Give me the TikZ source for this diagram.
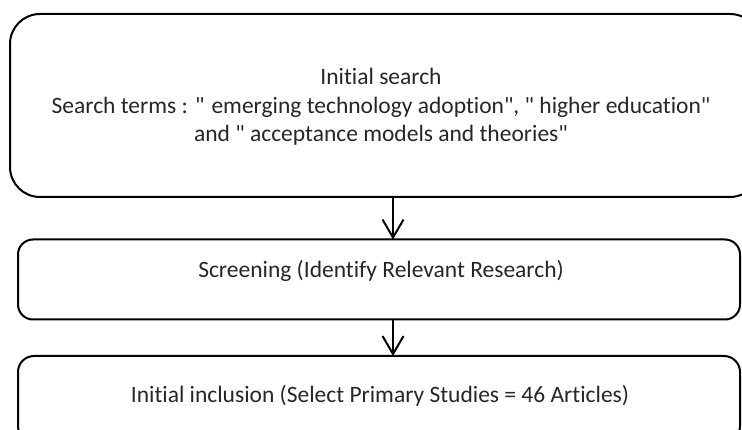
\documentclass[tikz,border=0pt]{standalone}
\usepackage{fontspec}
\setmainfont{Carlito}[Ligatures={NoCommon}]
\usetikzlibrary{arrows.meta}
\newcommand{\qd}{\textquotedbl}
\begin{document}
\begin{tikzpicture}[x=1pt,y=-1pt,
  box/.style={draw=black,line width=2pt,fill=none,inner sep=0pt},
  txt/.style={text=black!85,inner sep=0pt,align=center,font=\fontsize{23.5}{28.5}\selectfont},
  flow/.style={draw=black,line width=2pt,-{Straight Barb[length=18pt,width=21pt,line width=2pt]}}]
\useasboundingbox (0,0) rectangle (742,430);
\node[box,rounded corners=30pt,minimum width=750pt,minimum height=183pt] (b1) at (385,105.5) {};
\node[box,rounded corners=15pt,minimum width=722pt,minimum height=80pt] (b2) at (379,279.5) {};
\node[box,rounded corners=16pt,minimum width=722pt,minimum height=86pt] (b3) at (379,399) {};
\node[txt] (t1) at (381,107) {Initial search\\Search terms : \qd{} emerging technology adoption\qd, \qd{} higher education\qd\\and \qd{} acceptance models and theories\qd};
\node[txt] (t2) at (381,271) {Screening (Identify Relevant Research)};
\node[txt] (t3) at (380,396) {Initial inclusion (Select Primary Studies = 46 Articles)};
\draw[flow] (b1.south -| 393,0) -- ([yshift=-1pt]b2.north -| 393,0);
\draw[flow] (b2.south -| 393,0) -- ([yshift=-1pt]b3.north -| 393,0);
\end{tikzpicture}
\end{document}
